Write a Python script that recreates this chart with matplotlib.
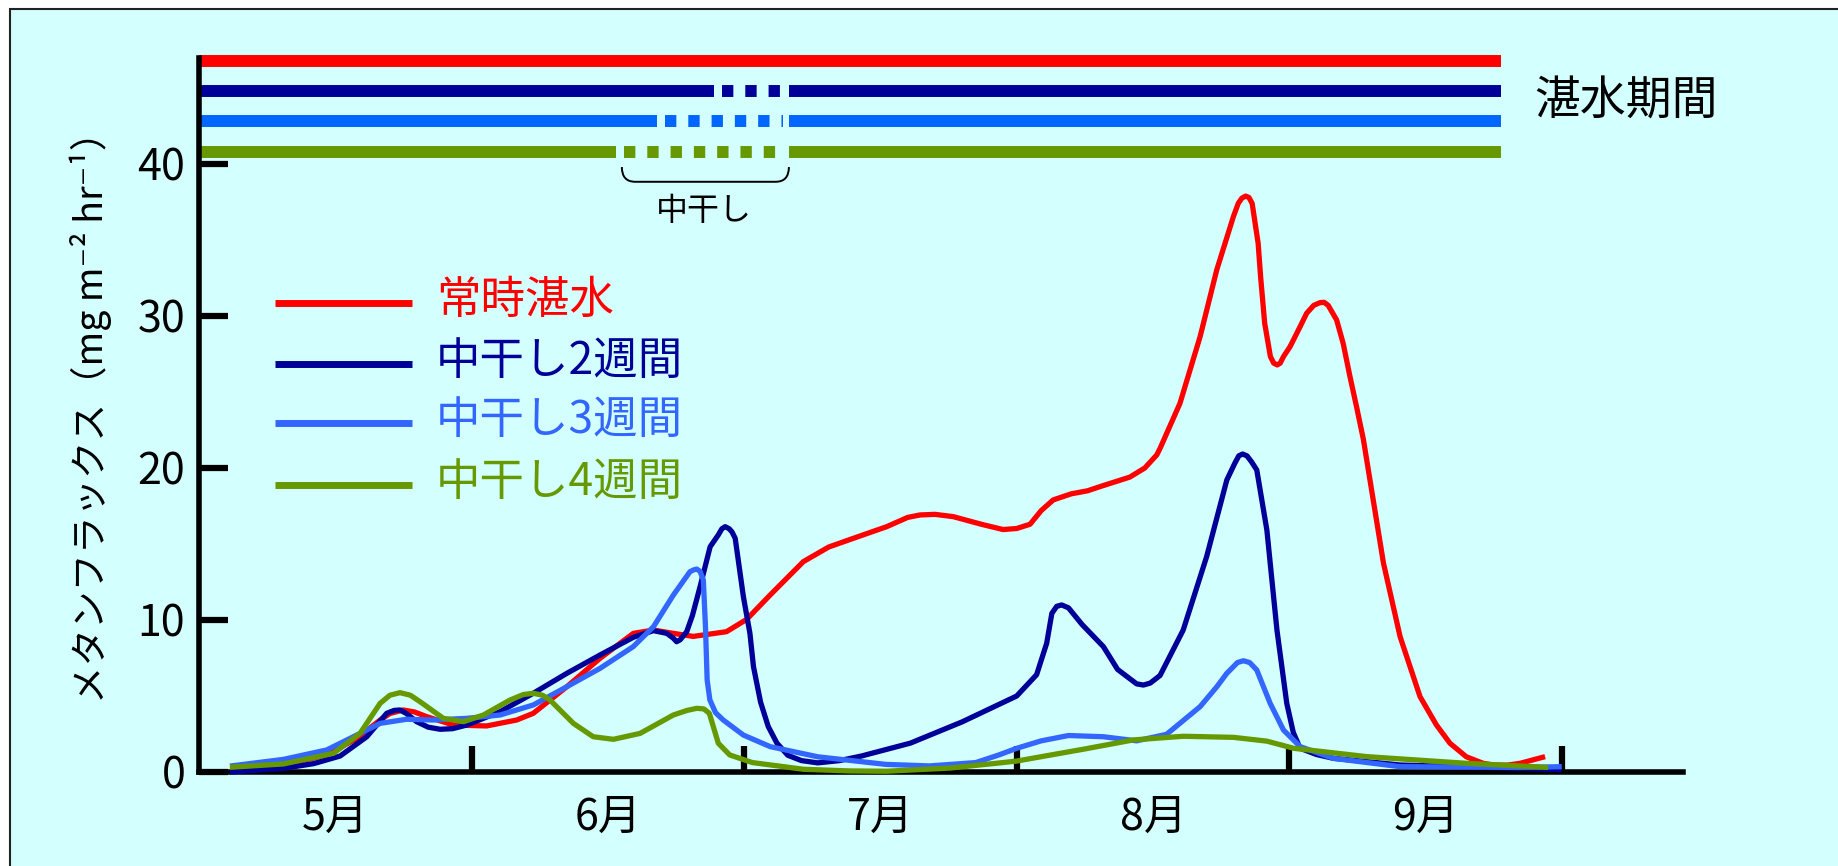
import matplotlib
matplotlib.use("Agg")
import matplotlib.pyplot as plt
from matplotlib.patches import Rectangle, PathPatch
from matplotlib.path import Path

plt.rcParams['font.family'] = ['Noto Sans CJK JP', 'DejaVu Sans']

# x values are months as decimals (5.0 = 5/1, 6.0 = 6/1, ...)
red_x = [5.113, 5.309, 5.468, 5.578, 5.664, 5.70, 5.749, 5.79, 5.835, 5.933, 6.055, 6.165,
         6.226, 6.349, 6.471, 6.593, 6.667, 6.740, 6.813, 6.935, 7.009, 7.095, 7.217, 7.31,
         7.400, 7.523, 7.60, 7.645, 7.70, 7.767, 7.87, 7.95, 8.00, 8.049, 8.09, 8.134, 8.20,
         8.26, 8.31, 8.415, 8.47, 8.514, 8.526, 8.599, 8.673, 8.734, 8.795, 8.813, 8.826,
         8.840, 8.852, 8.864, 8.886, 8.895, 8.910, 8.931, 8.943, 8.956, 8.967, 8.979, 9.003,
         9.040, 9.064, 9.09, 9.113, 9.128, 9.143, 9.174, 9.198, 9.223, 9.247, 9.272, 9.346,
         9.407, 9.480, 9.54, 9.590, 9.65, 9.712, 9.749, 9.80, 9.847, 9.939]
red_y = [0.18, 0.46, 1.12, 2.21, 3.42, 3.85, 4.08, 3.95, 3.64, 3.09, 3.03, 3.42,
         3.86, 5.61, 7.48, 9.12, 9.34, 9.12, 8.92, 9.23, 10.04, 11.64, 13.84, 14.8,
         15.37, 16.14, 16.75, 16.91, 16.95, 16.80, 16.3, 15.95, 16.02, 16.30, 17.2, 17.9, 18.3,
         18.5, 18.8, 19.4, 20.0, 20.86, 21.29, 24.25, 28.64, 33.03, 36.53, 37.41, 37.75,
         37.89, 37.8, 37.41, 34.78, 32.59, 29.52, 27.33, 26.9, 26.78, 26.9, 27.33, 27.98,
         29.3, 30.18, 30.7, 30.88, 30.9, 30.7, 29.74, 28.2, 26.01, 24.04, 21.9, 13.73,
         8.90, 4.96, 3.1, 1.89, 1.0, 0.57, 0.46, 0.45, 0.57, 1.01]

d2_x = [5.113, 5.309, 5.42, 5.517, 5.615, 5.688, 5.715, 5.737, 5.76, 5.798, 5.84, 5.884,
        5.93, 5.982, 6.104, 6.226, 6.349, 6.471, 6.593, 6.667, 6.716, 6.740, 6.752, 6.765,
        6.789, 6.81, 6.838, 6.875, 6.905, 6.918, 6.930, 6.945, 6.955, 6.967, 6.997, 7.021,
        7.034, 7.06, 7.088, 7.12, 7.16, 7.21, 7.27, 7.35, 7.43, 7.61, 7.80, 8.0, 8.073, 8.110,
        8.129, 8.147, 8.165, 8.19, 8.240, 8.318, 8.370, 8.44, 8.465, 8.49, 8.526, 8.611,
        8.697, 8.771, 8.80, 8.815, 8.829, 8.845, 8.862, 8.881, 8.918, 8.955, 8.991, 9.015,
        9.040, 9.10, 9.162, 9.407, 9.847, 10.0]
d2_y = [0.0, 0.24, 0.55, 1.05, 2.32, 3.86, 4.05, 4.08, 3.85, 3.31, 2.95, 2.81,
        2.85, 3.09, 3.97, 5.18, 6.49, 7.70, 8.86, 9.30, 9.12, 8.8, 8.57, 8.7,
        9.23, 10.3, 12.19, 14.82, 15.6, 16.0, 16.14, 16.0, 15.8, 15.37, 11.53, 9.12,
        6.93, 4.6, 3.0, 1.9, 1.1, 0.75, 0.6, 0.75, 1.05, 1.9, 3.3, 5.0, 6.4, 8.47,
        10.44, 10.9, 10.99, 10.8, 9.7, 8.25, 6.75, 5.8, 5.72, 5.85, 6.35, 9.34,
        14.17, 19.21, 20.3, 20.8, 20.92, 20.8, 20.4, 19.87, 15.92, 9.34, 4.52, 2.6,
        1.56, 1.15, 0.90, 0.46, 0.24, 0.15]

d3_x = [5.113, 5.309, 5.468, 5.578, 5.664, 5.761, 5.859, 5.982, 6.104, 6.226, 6.349, 6.471,
        6.593, 6.667, 6.740, 6.801, 6.815, 6.826, 6.838, 6.850, 6.858, 6.864, 6.874, 6.895,
        6.923, 6.997, 7.095, 7.27, 7.52, 7.68, 7.85, 7.939, 8.0, 8.09, 8.19, 8.318, 8.44,
        8.55, 8.673, 8.734, 8.771, 8.81, 8.832, 8.855, 8.881, 8.930, 8.979, 9.040, 9.162,
        9.407, 9.847, 10.0]
d3_y = [0.39, 0.83, 1.45, 2.43, 3.20, 3.47, 3.42, 3.53, 3.75, 4.41, 5.61, 6.82,
        8.25, 9.56, 11.64, 13.18, 13.3, 13.35, 13.2, 12.63, 9.5, 6.05, 4.74, 3.9,
        3.42, 2.43, 1.67, 1.0, 0.5, 0.4, 0.62, 1.15, 1.56, 2.05, 2.4, 2.32, 2.05,
        2.48, 4.30, 5.6, 6.49, 7.2, 7.32, 7.2, 6.71, 4.52, 2.76, 1.67, 0.90,
        0.35, 0.3, 0.35]

d4_x = [5.113, 5.309, 5.493, 5.590, 5.664, 5.70, 5.737, 5.775, 5.810, 5.896, 5.970, 6.043,
        6.141, 6.19, 6.226, 6.26, 6.287, 6.373, 6.446, 6.520, 6.618, 6.740, 6.79, 6.826,
        6.852, 6.872, 6.905, 6.947, 7.030, 7.217, 7.388, 7.523, 7.755, 7.939, 8.0, 8.245,
        8.428, 8.611, 8.795, 8.918, 9.016, 9.285, 9.651, 9.95]
d4_y = [0.31, 0.53, 1.23, 2.54, 4.52, 5.05, 5.22, 5.05, 4.63, 3.53, 3.31, 3.75,
        4.74, 5.1, 5.18, 5.05, 4.74, 3.20, 2.32, 2.15, 2.54, 3.75, 4.05, 4.19,
        4.15, 3.86, 1.89, 1.12, 0.62, 0.18, 0.07, 0.05, 0.26, 0.6, 0.72, 1.5,
        2.11, 2.35, 2.28, 2.03, 1.56, 1.01, 0.57, 0.3]

labels = ['常時湛水', '中干し2週間', '中干し3週間', '中干し4週間']
colors = ['#FF0000', '#000099', '#3366FF', '#669900']
bar_colors = ['#FF0000', '#000099', '#0066FF', '#669900']

# flooding period bars (top): level, drainage start, drainage end
bar_levels = [46.8, 44.8, 42.8, 40.8]
drain_start = [None, 6.89, 6.68, 6.53]
drain_end = 7.164
flood_start = 5.0
flood_end = 9.777

months = [5, 6, 7, 8, 9]
month_labels = [f'{m}月' for m in months]

fig = plt.figure(figsize=(18.38, 8.66), dpi=100)
fig.patch.set_facecolor('white')
fig.patches.append(Rectangle((10 / 1838, -0.05), 1.1, (866 - 9) / 866 + 0.05,
                             transform=fig.transFigure, facecolor='#D4FFFF',
                             edgecolor='#222222', linewidth=1.5, zorder=-10))

ax = fig.add_axes([0.10838, 0.10855, 0.80713, 0.84249])
ax.patch.set_visible(False)
ax.set_xlim(5, 10.444)
ax.set_ylim(0, 48)

# curves (light blue bottom, dark blue on top)
series = [(d3_x, d3_y, 2), (d4_x, d4_y, 3), (red_x, red_y, 0), (d2_x, d2_y, 1)]
for xs, ys, i in series:
    ax.plot(xs, ys, color=colors[i], lw=3.8, solid_joinstyle='round',
            solid_capstyle='butt', clip_on=False, zorder=3 + i)

# top bars
for lvl, ds, c in zip(bar_levels, drain_start, bar_colors):
    if ds is None:
        ax.plot([flood_start, flood_end], [lvl, lvl], color=c, lw=8.6,
                solid_capstyle='butt', clip_on=False)
    else:
        ax.plot([flood_start, ds], [lvl, lvl], color=c, lw=8.6,
                solid_capstyle='butt', clip_on=False)
        ax.plot([ds + 0.03, drain_end - 0.02], [lvl, lvl], color=c, lw=8.6,
                linestyle=(0, (0.95, 1.0)), dash_capstyle='butt', clip_on=False)
        ax.plot([drain_end, flood_end], [lvl, lvl], color=c, lw=8.6,
                solid_capstyle='butt', clip_on=False)

ax.text(9.898, 44.1, '湛水期間', fontsize=33, ha='left', va='center')

# brace under the drainage dashes
brace = Path([(6.551, 39.8), (6.551, 38.83), (6.60, 38.83), (7.115, 38.83),
              (7.164, 38.83), (7.164, 39.8)],
             [Path.MOVETO, Path.CURVE3, Path.CURVE3, Path.LINETO,
              Path.CURVE3, Path.CURVE3])
ax.add_patch(PathPatch(brace, facecolor='none', edgecolor='black', lw=1.4,
                       clip_on=False))
ax.text(6.853, 36.9, '中干し', fontsize=23, ha='center', va='center')

# legend drawn by hand
leg_y = [30.85, 26.84, 22.94, 18.88]
for lab, c, y in zip(labels, colors, leg_y):
    ax.plot([5.278, 5.781], [y, y], color=c, lw=5, solid_capstyle='butt')
    ax.text(5.869, y + 0.2, lab, color=c, fontsize=32, ha='left', va='center')

# axes styling
for s in ['top', 'right']:
    ax.spines[s].set_visible(False)
ax.spines['left'].set_bounds(0, 47.0)
ax.spines['left'].set_linewidth(4)
ax.spines['bottom'].set_linewidth(4)

ax.set_yticks([0, 10, 20, 30, 40])
ax.tick_params(axis='y', direction='in', length=21, width=4.5, labelsize=31, pad=10)
ax.set_xticks([6, 7, 8, 9, 10])
ax.set_xticklabels([])
ax.tick_params(axis='x', which='major', direction='in', length=19, width=4.5)
ax.set_xticks([m + 0.5 for m in months], minor=True)
ax.set_xticklabels(month_labels, minor=True)
ax.tick_params(axis='x', which='minor', length=0, labelsize=31, pad=17)

fig.text(91 / 1838, (866 - 408) / 866, 'メタンフラックス（mg m⁻² hr⁻¹）',
         rotation=90, fontsize=27, ha='center', va='center')

fig.savefig('out.png', dpi=100)
